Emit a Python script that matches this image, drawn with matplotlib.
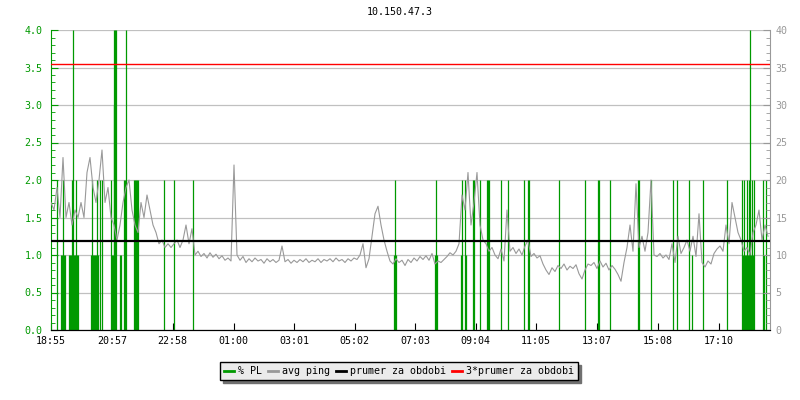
import matplotlib.pyplot as plt
import numpy as np

plt.rcParams['font.family'] = 'DejaVu Sans Mono'
plt.rcParams['font.size'] = 7.2

# Data
title = '10.150.47.3'
tick_labels = ['18:55', '20:57', '22:58', '01:00', '03:01', '05:02',
               '07:03', '09:04', '11:05', '13:07', '15:08', '17:10']
tick_minutes = [0, 122, 243, 365, 486, 607, 728, 849, 970, 1092, 1213, 1335]
span_minutes = 1438

# avg ping [ms], one sample every 6 minutes from 18:55
ping_step = 6
ping_ms = [
    17, 16, 19, 15, 23, 15, 17, 14, 16, 15, 17, 15, 21, 23, 19, 17, 20, 24, 17, 19,
    15, 14, 12, 14, 17, 19, 20, 16, 14, 13, 17, 15, 18, 16, 14, 13, 11.5, 12, 11, 11.5,
    11, 11.5, 12, 11, 12, 14, 11.5, 13.5, 10, 10.5, 9.8, 10.2, 9.6, 10.3, 9.7, 10.1, 9.5, 9.9, 9.3, 9.6,
    9.2, 22, 10, 9.3, 9.8, 9.0, 9.5, 9.1, 9.6, 9.2, 9.4, 8.9, 9.5, 9.1, 9.4, 9.0, 9.3, 11.2, 9.1, 9.4,
    8.9, 9.3, 9.0, 9.4, 9.1, 9.5, 9.0, 9.3, 9.1, 9.5, 9.0, 9.4, 9.2, 9.5, 9.1, 9.6, 9.2, 9.4, 9.0, 9.5,
    9.2, 9.6, 9.4, 10.0, 11.5, 8.3, 9.5, 12.5, 15.5, 16.5, 14, 12, 10.5, 9.2, 8.8, 9.5, 9.0, 9.3, 8.6, 9.4,
    9.0, 9.6, 9.2, 9.8, 9.4, 9.9, 9.3, 10.2, 8.8, 9.2, 9.0, 9.4, 9.8, 10.3, 10.0, 10.5, 11.5, 18, 16, 21,
    14, 17, 21, 14, 12, 11.5, 10.5, 11, 10, 9.5, 10.8, 9.2, 16, 10.5, 11, 10.2, 10.8, 10.0, 11.2, 12,
    9.8, 10.2, 9.6, 9.9, 8.8, 8.0, 7.4, 8.3, 7.8, 8.6, 8.2, 8.8, 8.0, 8.5, 8.2, 8.7, 7.5, 6.8, 8.0, 8.8,
    8.6, 9.0, 8.2, 9.2, 8.4, 8.9, 8.0, 8.6, 8.1, 7.4, 6.5, 9.0, 11, 14, 10.5, 19.5, 11, 12.5, 10.5, 13,
    20, 10, 9.8, 10.2, 9.6, 10.0, 9.4, 11.5, 9.0, 12.5, 10.2, 11, 12, 10.5, 12.5, 9.8, 15.5, 9.0, 8.4, 9.2,
    8.8, 10.2, 10.8, 11.2, 10.5, 14, 11.5, 17, 15, 13, 12, 10.5, 11, 10, 13, 14, 16, 12, 14, 12.5,
]

# packet loss [%] events: minute from 18:55, value
pl_minutes = [11, 20, 22, 24, 26, 28, 35, 37, 40, 42, 44, 46, 48, 49, 50, 52, 54,
              80, 81, 82, 84, 86, 88, 90, 91, 92, 94, 98, 101, 119, 121, 123, 125,
              126, 128, 130, 137, 139, 145, 147, 149, 165, 167, 169, 171, 173,
              226, 245, 283, 686, 688, 690, 768, 770, 772, 819, 821, 828, 830,
              844, 846, 858, 871, 873, 875, 899, 913, 945, 953, 956, 1015, 1067,
              1093, 1096, 1118, 1173, 1175, 1199, 1244, 1252, 1275, 1282, 1303, 1351,
              1381, 1383, 1385, 1387, 1389, 1391, 1393, 1395, 1397, 1399, 1401, 1403,
              1405, 1423, 1426, 1429]
pl_values = [2, 1, 1, 2, 1, 1, 1, 1, 1, 2, 4, 1, 1, 2, 1, 1, 1,
             1, 2, 1, 1, 1, 1, 1, 2, 1, 1, 2, 2, 2, 1, 1, 3,
             4, 4, 4, 1, 1, 2, 2, 4, 2, 2, 2, 2, 2,
             2, 2, 2, 1, 2, 1, 1, 2, 1, 1, 2, 2, 1,
             2, 2, 2, 2, 2, 2, 2, 2, 2, 2, 2, 2, 2,
             2, 2, 2, 2, 2, 2, 2, 2, 2, 1, 2, 2,
             2, 1, 2, 1, 1, 2, 1, 2, 4, 1, 2, 1,
             2, 2, 1, 2]

avg_ms = 11.82
avg3_ms = 3 * avg_ms

green = '#009900'
gray = '#999999'

fig = plt.figure(figsize=(8, 4), dpi=100)
ax = fig.add_axes([51 / 800, 70 / 400, 719 / 800, 300 / 400])
ax2 = ax.twinx()

ax.vlines(pl_minutes, 0, pl_values, color=green, linewidth=0.9, zorder=2)
ping_t = np.arange(len(ping_ms)) * ping_step
ax2.plot(ping_t, ping_ms, color=gray, linewidth=0.8, zorder=3)
ax2.axhline(avg_ms, color='black', linewidth=1.6, zorder=4)
ax2.axhline(avg3_ms, color='red', linewidth=1.0, zorder=4)

ax.set_xlim(0, span_minutes)
ax.set_ylim(0, 4)
ax2.set_ylim(0, 40)
ax.set_xticks(tick_minutes)
ax.set_xticklabels(tick_labels)
ax.set_yticks(np.arange(0, 4.01, 0.5))
ax.set_yticks(np.arange(0, 4.01, 0.1), minor=True)
ax.set_yticklabels(['%.1f' % v for v in np.arange(0, 4.01, 0.5)])
ax2.set_yticks(np.arange(0, 41, 5))
ax2.set_yticks(np.arange(0, 41, 1), minor=True)

ax.grid(axis='y', color='#c0c0c0', linewidth=0.9)
ax.set_axisbelow(True)

for a in (ax, ax2):
    a.spines['top'].set_visible(False)
ax.spines['left'].set_color(green)
ax.spines['right'].set_visible(False)
ax2.spines['left'].set_visible(False)
ax2.spines['right'].set_color(gray)
ax.spines['bottom'].set_color('black')

ax.tick_params(axis='y', which='both', direction='in', colors=green, pad=6)
ax.tick_params(axis='y', which='major', length=5)
ax.tick_params(axis='y', which='minor', length=3)
ax.tick_params(axis='x', direction='in', length=5, pad=4, colors='black')
ax2.tick_params(axis='y', which='both', direction='in', colors=gray, pad=4)
ax2.tick_params(axis='y', which='major', length=5)
ax2.tick_params(axis='y', which='minor', length=3)

fig.text(0.5, 1 - 12 / 400, title, ha='center', va='center')

handles = [plt.Line2D([], [], color=green, linewidth=2),
           plt.Line2D([], [], color=gray, linewidth=2),
           plt.Line2D([], [], color='black', linewidth=2),
           plt.Line2D([], [], color='red', linewidth=2)]
labels = ['% PL', 'avg ping', 'prumer za obdobi', '3*prumer za obdobi']
leg = fig.legend(handles, labels, loc='center', bbox_to_anchor=(0.499, 1 - 371 / 400),
                 ncol=4, frameon=True, fancybox=False, shadow={'color': '#707070', 'alpha': 1},
                 handlelength=1.0, handletextpad=0.4, columnspacing=0.6,
                 borderpad=0.4, facecolor='#ebebeb', edgecolor='black', framealpha=1)
leg.get_frame().set_linewidth(1.0)

fig.savefig('out.png', dpi=100)
